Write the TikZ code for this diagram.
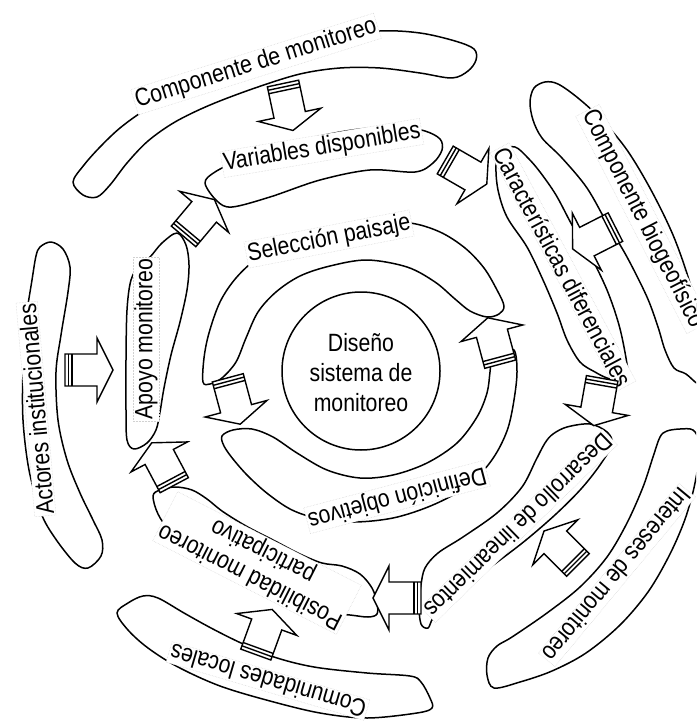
\documentclass[tikz,border=0pt]{standalone}
\usepackage{fontspec}
\setmainfont[FakeStretch=0.85]{Liberation Sans}
\begin{document}
\begin{tikzpicture}[x=1pt,y=-1pt,
  band/.style={draw=black, line width=1.5pt, fill=white, line join=round},
  lbl/.style={fill=white, draw=black!18, densely dotted, line width=0.5pt, inner sep=1.5pt, font=\fontsize{25}{28.7}\selectfont, align=center},
  arrowline/.style={draw=black, line width=1.4pt, line join=miter},
  blockarrow/.pic={
    \filldraw[arrowline, fill=white] (-24,-16) -- (8,-16) -- (8,-32) -- (24,0) -- (8,32) -- (8,16) -- (-24,16) -- cycle;
    \draw[arrowline] (-20.5,-16) -- (-20.5,16) (-17,-16) -- (-17,16);
  }]
\useasboundingbox (0,0) rectangle (696,722);
\clip (0,0) rectangle (696,722);

% ---------- outer ring bands ----------
% Componente de monitoreo
\draw[band] plot[smooth cycle, tension=0.55] coordinates {(73,182) (84,165) (100,147) (120,128) (145,110) (180,90) (230,68) (280,50) (330,38) (380,31) (420,33) (455,41) (474,49) (476,60) (468,71) (452,78) (420,73) (380,68) (340,68) (300,74) (255,88) (210,105) (175,122) (148,141) (127,163) (110,185) (97,197) (83,195)};
% Componente biogeofisico
\draw[band] plot[smooth cycle, tension=0.55] coordinates {(530,102) (534,88) (545,82) (558,84) (578,98) (602,120) (627,150) (651,190) (673,235) (689,280) (699,320) (706,360) (708,385) (698,384) (686,374) (674,368) (665,350) (658,327) (647,297) (627,257) (608,225) (587,188) (562,158) (542,138) (533,120)};
% Intereses de monitoreo
\draw[band] plot[smooth cycle, tension=0.55] coordinates {(660,437) (667,431) (680,429) (693,430) (699,442) (698,465) (693,492) (684,522) (669,556) (648,592) (620,625) (586,653) (552,671) (520,682) (494,688) (487,675) (488,658) (497,646) (512,637) (547,613) (580,587) (607,557) (627,523) (643,487) (653,457)};
% Comunidades locales
\draw[band] plot[smooth cycle, tension=0.55] coordinates {(117,613) (128,603) (143,596) (158,598) (184,613) (211,628) (241,643) (274,657) (314,667) (367,673) (410,676) (421,682) (430,698) (432,708) (417,713) (367,718) (320,713) (270,701) (220,686) (178,667) (148,648) (128,630)};
% Actores institucionales
\draw[band] plot[smooth cycle, tension=0.55] coordinates {(40,247) (51,242) (63,249) (70,267) (68,292) (61,335) (56,372) (58,420) (67,460) (80,493) (93,520) (102,540) (101,556) (88,568) (75,563) (55,538) (41,513) (29,470) (23,420) (23,370) (26,320) (32,280) (36,256)};

% ---------- middle ring bands ----------
% Variables disponibles
\draw[band] plot[smooth cycle, tension=0.55] coordinates {(205,183) (215,172) (240,160) (280,147) (320,136) (360,129) (400,127) (425,131) (440,139) (442,150) (433,163) (415,172) (370,170) (320,180) (270,197) (232,207) (217,201)};
% Caracteristicas diferenciales
\draw[band] plot[smooth cycle, tension=0.55] coordinates {(496,165) (500,150) (515,147) (528,158) (540,172) (556,195) (572,225) (590,255) (607,290) (619,325) (626,358) (628,378) (620,381) (607,378) (595,372) (580,362) (567,340) (557,313) (543,280) (527,247) (507,217) (498,190)};
% Desarrollo de lineamientos
\draw[band] plot[smooth cycle, tension=0.55] coordinates {(553,434) (567,427) (590,424) (607,432) (612,444) (600,465) (581,489) (556,514) (526,540) (496,563) (466,585) (446,602) (433,618) (428,628) (421,624) (419,605) (421,585) (425,568) (438,553) (463,537) (497,513) (522,487) (536,460) (545,443)};
% Posibilidad monitoreo participativo
\draw[band] plot[smooth cycle, tension=0.55] coordinates {(153,496) (160,490) (175,487) (192,490) (207,499) (222,511) (246,526) (275,541) (300,554) (322,563) (342,566) (360,574) (372,588) (377,603) (377,614) (368,617) (350,615) (320,612) (290,603) (255,588) (222,570) (192,550) (170,531) (158,514)};
% Apoyo monitoreo
\draw[band] plot[smooth cycle, tension=0.55] coordinates {(150,257) (162,243) (177,233) (186,245) (189,265) (187,290) (180,322) (171,355) (164,388) (160,412) (156,430) (147,443) (134,449) (127,440) (126,410) (126,360) (127,310) (131,280) (140,264)};

% ---------- inner ring bands ----------
% Seleccion paisaje
\draw[band] plot[smooth cycle, tension=0.55] coordinates {(203,382) (204,358) (209,333) (220,302) (236,278) (258,258) (290,242) (330,230) (370,223) (410,223) (440,232) (465,248) (484,268) (497,290) (504,306) (499,314) (487,317) (470,311) (455,299) (435,282) (407,267) (367,260) (330,266) (300,276) (276,292) (258,312) (246,338) (236,362) (222,378) (210,384)};
% Definicion objetivos
\draw[band] plot[smooth cycle, tension=0.55] coordinates {(222,436) (233,430) (252,429) (273,437) (297,453) (327,470) (360,478) (393,475) (427,463) (457,443) (477,417) (487,393) (490,372) (492,357) (500,351) (514,350) (517,372) (514,400) (508,428) (497,452) (482,472) (458,492) (428,507) (393,518) (355,522) (320,519) (292,510) (268,494) (248,476) (233,459) (224,446)};

% ---------- centre ----------
\node[circle, draw=black, line width=1.5pt, fill=white, minimum size=158pt, inner sep=0pt] (centre) at (361,371) {};
\node[font=\fontsize{25}{30}\selectfont, align=center] (centretext) at (361,373) {Diseño\\sistema de\\monitoreo};

% ---------- labels ----------
\node[lbl, rotate=17.5] (lA) at (256,64) {Componente de monitoreo};
\node[lbl, rotate=9.5] (lB) at (322,148) {Variables disponibles};
\node[lbl, rotate=11] (lC) at (329,239) {Selección paisaje};
\node[lbl, rotate=194.8] (lD) at (397,497) {Definición objetivos};
\node[lbl, rotate=-62] (lE) at (563,267) {Características diferenciales};
\node[lbl, rotate=-62.9] (lF) at (643,219) {Componente biogeofísico};
\node[lbl, rotate=230.3] (lG) at (617,575) {Intereses de monitoreo};
\node[lbl, rotate=224.3] (lH) at (519,526) {Desarrollo de lineamientos};
\node[lbl, rotate=153] (lI) at (257,563) {Posibilidad monitoreo\\participativo};
\node[lbl, rotate=90] (lJ) at (146,339) {Apoyo monitoreo};
\node[lbl, rotate=95] (lK) at (36,409) {Actores institucionales};
\node[lbl, rotate=163.6] (lL) at (268,681) {Comunidades locales};

% ---------- block arrows ----------
\pic[rotate=-78] at (288,107) {blockarrow};
\pic[rotate=207] at (594,238) {blockarrow};
\pic[rotate=135] at (561,548) {blockarrow};
\pic[rotate=70] at (264,632) {blockarrow};
\pic[rotate=0] at (89,370) {blockarrow};
\pic[rotate=-30] at (466,172) {blockarrow};
\pic[rotate=-100] at (598,402) {blockarrow};
\pic[rotate=180] at (397,598) {blockarrow};
\pic[rotate=118] at (163,464) {blockarrow};
\pic[rotate=50] at (199,218) {blockarrow};
\pic[rotate=-75] at (234,401) {blockarrow};
\pic[rotate=105] at (494,341) {blockarrow};
\end{tikzpicture}
\end{document}
